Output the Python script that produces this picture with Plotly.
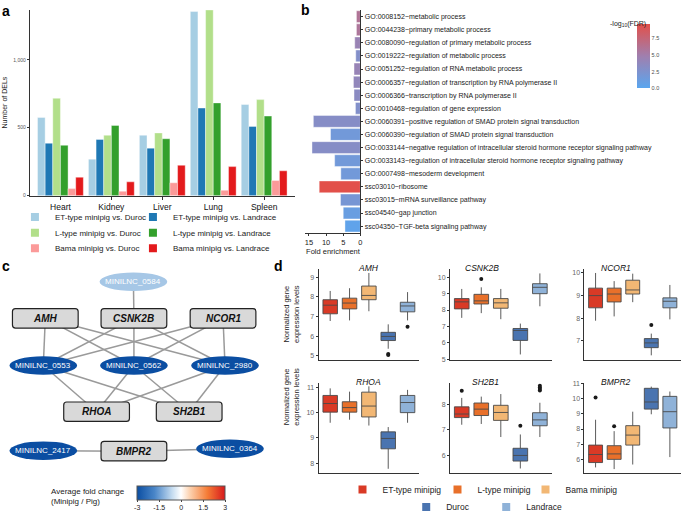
import plotly.graph_objects as go
from plotly.colors import sample_colorscale

W, H = 685, 522
FONT = "Liberation Sans, Arial, Helvetica, sans-serif"


def fx(p):
    return p / W


def fy(p):
    return 1 - p / H


# ---------------- panel a data ----------------
tissues = ["Heart", "Kidney", "Liver", "Lung", "Spleen"]
comparisons = ["ET-type minipig vs. Duroc", "ET-type minipig vs. Landrace",
               "L-type minipig vs. Duroc", "L-type minipig vs. Landrace",
               "Bama minipig vs. Duroc", "Bama minipig vs. Landrace"]
et_duroc = [576, 269, 445, 1355, 671]
et_landrace = [386, 414, 350, 645, 510]
l_duroc = [717, 445, 462, 1367, 707]
l_landrace = [371, 517, 419, 683, 586]
bama_duroc = [52, 33, 95, 40, 112]
bama_landrace = [136, 102, 224, 214, 183]
a_ticks = [0, 500, 1000]
a_ticktext = ["0", "500", "1,000"]

# ---------------- panel b data ----------------
terms = ["GO:0008152~metabolic process",
         "GO:0044238~primary metabolic process",
         "GO:0080090~regulation of primary metabolic process",
         "GO:0019222~regulation of metabolic process",
         "GO:0051252~regulation of RNA metabolic process",
         "GO:0006357~regulation of transcription by RNA polymerase II",
         "GO:0006366~transcription by RNA polymerase II",
         "GO:0010468~regulation of gene expression",
         "GO:0060391~positive regulation of SMAD protein signal transduction",
         "GO:0060390~regulation of SMAD protein signal transduction",
         "GO:0033144~negative regulation of intracellular steroid hormone receptor signaling pathway",
         "GO:0033143~regulation of intracellular steroid hormone receptor signaling pathway",
         "GO:0007498~mesoderm development",
         "ssc03010~ribosome",
         "ssc03015~mRNA surveillance pathway",
         "ssc04540~gap junction",
         "ssc04350~TGF-beta signaling pathway"]
fold_enrichment = [1.16, 1.16, 1.65, 1.36, 1.86, 2.03, 1.86, 1.45, 13.7, 8.7,
                   14.1, 7.5, 5.7, 12.0, 5.8, 5.0, 4.5]
neg_log10_fdr = [5.9, 5.7, 4.3, 2.8, 4.2, 3.8, 3.3, 2.7, 3.0, 1.6, 3.0, 1.6,
                 1.6, 9.5, 2.0, 1.0, 0.4]
b_fe_ticks = [0, 5, 10, 15]
b_cb_ticks = [0, 2.5, 5, 7.5]
b_cb_ticktext = ["0.0", "2.5", "5.0", "7.5"]

# ---------------- panel c data ----------------
genes = ["AMH", "CSNK2B", "NCOR1", "RHOA", "SH2B1", "BMPR2"]
lncrnas = ["MINILNC_0584", "MINILNC_0553", "MINILNC_0562", "MINILNC_2980",
           "MINILNC_2417", "MINILNC_0364"]
lnc_fold_change = [-0.9, -3, -3, -3, -3, -3]
edges = [("MINILNC_0584", "CSNK2B"),
         ("AMH", "MINILNC_0553"), ("AMH", "MINILNC_0562"), ("AMH", "MINILNC_2980"),
         ("CSNK2B", "MINILNC_0553"), ("CSNK2B", "MINILNC_0562"), ("CSNK2B", "MINILNC_2980"),
         ("NCOR1", "MINILNC_0553"), ("NCOR1", "MINILNC_0562"), ("NCOR1", "MINILNC_2980"),
         ("MINILNC_0553", "RHOA"), ("MINILNC_0553", "SH2B1"),
         ("MINILNC_0562", "RHOA"), ("MINILNC_0562", "SH2B1"),
         ("MINILNC_2980", "RHOA"), ("MINILNC_2980", "SH2B1"),
         ("MINILNC_2417", "BMPR2"), ("BMPR2", "MINILNC_0364")]
c_cb_ticks = [-3, -1.5, 0, 1.5, 3]
c_cb_ticktext = ["-3", "-1.5", "0", "1.5", "3"]

# ---------------- panel d data ----------------
groups = ["ET-type minipig", "L-type minipig", "Bama minipig", "Duroc", "Landrace"]
d_genes = ["AMH", "CSNK2B", "NCOR1", "RHOA", "SH2B1", "BMPR2"]
d_lower = {"AMH": [6.77, 6.80, 7.27, 5.35, 6.80], "CSNK2B": [7.52, 7.81, 7.44, 5.28, 8.23],
           "NCOR1": [7.89, 8.08, 8.71, 6.36, 7.95], "RHOA": [9.60, 9.72, 9.49, 7.78, 9.60],
           "SH2B1": [7.20, 7.23, 6.72, 5.49, 6.72], "BMPR2": [5.47, 5.36, 5.66, 8.97, 6.15]}
d_q1 = {"AMH": [7.14, 7.39, 7.86, 5.77, 7.24], "CSNK2B": [8.07, 8.37, 8.11, 6.14, 9.00],
        "NCOR1": [8.46, 8.72, 9.07, 6.70, 8.46], "RHOA": [10.02, 10.02, 9.83, 8.57, 10.00],
        "SH2B1": [7.48, 7.56, 7.37, 5.78, 7.16], "BMPR2": [5.79, 6.00, 6.94, 9.31, 8.07]}
d_median = {"AMH": [7.58, 7.69, 8.08, 5.98, 7.54], "CSNK2B": [8.50, 8.56, 8.44, 6.75, 9.39],
            "NCOR1": [9.00, 9.07, 9.25, 6.91, 8.75], "RHOA": [10.36, 10.20, 10.26, 8.98, 10.40],
            "SH2B1": [7.62, 7.81, 7.68, 6.00, 7.39], "BMPR2": [6.32, 6.36, 7.60, 9.78, 9.14]}
d_q3 = {"AMH": [7.86, 7.94, 8.56, 6.19, 7.73], "CSNK2B": [8.70, 8.96, 8.70, 6.87, 9.61],
        "NCOR1": [9.33, 9.33, 9.68, 7.10, 8.90], "RHOA": [10.68, 10.43, 10.81, 9.24, 10.68],
        "SH2B1": [7.90, 8.05, 7.96, 6.28, 7.67], "BMPR2": [6.94, 6.90, 8.22, 10.68, 10.15]}
d_upper = {"AMH": [8.31, 8.45, 9.23, 6.60, 8.25], "CSNK2B": [9.29, 9.39, 9.29, 7.17, 10.24],
           "NCOR1": [10.00, 9.64, 9.97, 7.32, 9.47], "RHOA": [10.96, 10.83, 11.04, 9.43, 10.90],
           "SH2B1": [8.25, 8.30, 8.40, 6.82, 8.06], "BMPR2": [8.61, 7.86, 9.14, 10.79, 10.47]}
d_outliers = {"AMH": {"Duroc": [5.08, 5.03], "Landrace": [6.47]},
              "CSNK2B": {"L-type minipig": [9.90]},
              "NCOR1": {"Duroc": [7.70]},
              "RHOA": {},
              "SH2B1": {"ET-type minipig": [8.53], "Duroc": [7.16],
                        "Landrace": [8.72, 8.66, 8.60, 8.54]},
              "BMPR2": {"ET-type minipig": [10.07], "L-type minipig": [8.18]}}
d_ticks = {"AMH": [5, 6, 7, 8, 9], "CSNK2B": [5, 6, 7, 8, 9, 10], "NCOR1": [7, 8, 9, 10],
           "RHOA": [8, 9, 10, 11], "SH2B1": [6, 7, 8], "BMPR2": [6, 7, 8, 9, 10, 11]}

# ---------------- styles / layout constants ----------------
a_colors = ["#A6CEE3", "#1F78B4", "#B2DF8A", "#33A02C", "#FB9A99", "#E31A1C"]
a_legend_widths = [73, 130, 73, 130, 73, 130]
b_scale = [[0, "#5AA6EF"], [0.5, "#A07FAE"], [1, "#E2504A"]]
c_scale = [[0, "#0B4EA2"], [0.2, "#4A86C8"], [0.4, "#C5DCF0"], [0.5, "#FFFFFF"],
           [0.6, "#FCD2B0"], [0.8, "#F57C36"], [1, "#D7191C"]]
d_colors = ["#D93A26", "#E8702A", "#F2B774", "#4A74B0", "#8FB2D8"]
d_legend_rows = ["legend4", "legend4", "legend4", "legend5", "legend5"]
d_legend_widths = [50, 43, 60, 35, 45]
NODE_POS = {"MINILNC_0584": (133, 286.5),
            "AMH": (44.5, 324), "CSNK2B": (133.5, 324), "NCOR1": (223, 324),
            "MINILNC_0553": (42.5, 372.5), "MINILNC_0562": (133.5, 372.5),
            "MINILNC_2980": (225, 372.5),
            "RHOA": (96, 420), "SH2B1": (189, 420),
            "MINILNC_2417": (42.5, 460), "BMPR2": (133.5, 460.5),
            "MINILNC_0364": (230, 458)}
C_WIDTH = 275
D_COLS = [(319, 420), (451, 553), (586, 683)]
D_ROWS = [(273, 366.7), (390, 483.3)]
D_RANGES = {"AMH": [4.78, 9.45], "CSNK2B": [4.95, 10.53], "NCOR1": [6.16, 10.19],
            "RHOA": [7.6, 11.19], "SH2B1": [5.3, 8.85], "BMPR2": [5.08, 11.06]}

fig = go.Figure()

# ---------------- panel a traces ----------------
a_series = [et_duroc, et_landrace, l_duroc, l_landrace, bama_duroc, bama_landrace]
for name, vals, col in zip(comparisons, a_series, a_colors):
    fig.add_trace(go.Bar(x=tissues, y=vals, name=name, xaxis="x", yaxis="y",
                         marker=dict(color=col, line=dict(color="white", width=0.4)),
                         showlegend=False, legendgroup=name))
a_leg = ["legend", "legend2", "legend3"]
for i, (name, col) in enumerate(zip(comparisons, a_colors)):
    fig.add_trace(go.Scatter(x=[None], y=[None], mode="markers", name=name,
                             marker=dict(symbol="square", size=8, color=col),
                             xaxis="x", yaxis="y", legend=a_leg[i // 2],
                             legendwidth=a_legend_widths[i],
                             legendgroup=name, showlegend=True))

# ---------------- panel b traces ----------------
fig.add_trace(go.Bar(
    y=terms, x=fold_enrichment, orientation="h", width=0.9, xaxis="x2", yaxis="y2",
    showlegend=False,
    marker=dict(color=neg_log10_fdr, colorscale=b_scale, cmin=0, cmax=9.5,
                line=dict(color="white", width=0.4), showscale=True,
                colorbar=dict(x=fx(639), xanchor="left", xpad=0, y=fy(22), yanchor="top",
                              ypad=0, len=64, lenmode="pixels", thickness=13,
                              thicknessmode="pixels", outlinewidth=0,
                              tickvals=b_cb_ticks, ticktext=b_cb_ticktext, ticks="",
                              tickfont=dict(size=5.5, color="#4d4d4d", family=FONT)))))

# ---------------- panel c traces ----------------
ex, ey = [], []
for s, t in edges:
    ex += [NODE_POS[s][0], NODE_POS[t][0], None]
    ey += [NODE_POS[s][1], NODE_POS[t][1], None]
fig.add_trace(go.Scatter(x=ex, y=ey, mode="lines", xaxis="x3", yaxis="y3",
                         line=dict(color="#9a9a9a", width=1.5), showlegend=False,
                         hoverinfo="skip"))
fig.add_trace(go.Scatter(
    x=[NODE_POS[n][0] for n in lncrnas], y=[NODE_POS[n][1] for n in lncrnas],
    mode="markers", xaxis="x3", yaxis="y3", showlegend=False,
    marker=dict(size=6, opacity=0, color=lnc_fold_change, colorscale=c_scale,
                cmin=-3, cmax=3, showscale=True,
                colorbar=dict(orientation="h", x=fx(181), xanchor="center", xpad=0,
                              y=fy(496), yanchor="top", ypad=0, len=88, lenmode="pixels",
                              thickness=14, thicknessmode="pixels", outlinewidth=1,
                              outlinecolor="#555555", tickvals=c_cb_ticks,
                              ticktext=c_cb_ticktext, ticks="outside", ticklen=2,
                              tickfont=dict(size=7, color="#222222", family=FONT)))))


def rrect(cx, cy, w, h, r=3):
    x0, x1, y0, y1 = cx - w / 2, cx + w / 2, cy - h / 2, cy + h / 2
    return (f"M{x0 + r},{y0} L{x1 - r},{y0} Q{x1},{y0} {x1},{y0 + r} L{x1},{y1 - r} "
            f"Q{x1},{y1} {x1 - r},{y1} L{x0 + r},{y1} Q{x0},{y1} {x0},{y1 - r} "
            f"L{x0},{y0 + r} Q{x0},{y0} {x0 + r},{y0} Z")


shapes = []
annotations = []
for n, fc in zip(lncrnas, lnc_fold_change):
    cx, cy = NODE_POS[n]
    col = sample_colorscale(c_scale, [(fc + 3) / 6])[0]
    shapes.append(dict(type="circle", xref="x3", yref="y3", x0=cx - 34, x1=cx + 34,
                       y0=cy - 9.5, y1=cy + 9.5, fillcolor=col, line=dict(width=0)))
    annotations.append(dict(x=cx, y=cy, xref="x3", yref="y3", text=n, showarrow=False,
                            font=dict(size=8, color="white", family=FONT)))
for g in genes:
    cx, cy = NODE_POS[g]
    shapes.append(dict(type="path", xref="x3", yref="y3", path=rrect(cx, cy, 66, 20),
                       fillcolor="#D9D9D9", line=dict(color="#222222", width=1.2)))
    annotations.append(dict(x=cx, y=cy, xref="x3", yref="y3", text=f"<b><i>{g}</i></b>",
                            showarrow=False, font=dict(size=10, color="#111111", family=FONT)))
annotations.append(dict(x=fx(48), y=fy(507), xref="paper", yref="paper", xanchor="left",
                        yanchor="middle", align="left", showarrow=False,
                        text="Average fold change<br>(Minipig / Pig)",
                        font=dict(size=8, color="#222222", family=FONT)))

# ---------------- panel d traces ----------------
for k, gname in enumerate(d_genes):
    xa, ya = f"x{4 + k}", f"y{4 + k}"
    for j, grp in enumerate(groups):
        fig.add_trace(go.Box(x=[grp], q1=[d_q1[gname][j]], median=[d_median[gname][j]],
                             q3=[d_q3[gname][j]], lowerfence=[d_lower[gname][j]],
                             upperfence=[d_upper[gname][j]], boxpoints=False,
                             width=0.75, whiskerwidth=0, xaxis=xa, yaxis=ya,
                             fillcolor=d_colors[j], line=dict(color="#4a4a4a", width=0.9),
                             name=grp, showlegend=False))
        outs = d_outliers[gname].get(grp, [])
        if outs:
            fig.add_trace(go.Scatter(x=[grp] * len(outs), y=outs, mode="markers",
                                     xaxis=xa, yaxis=ya, showlegend=False,
                                     marker=dict(color="#1a1a1a", size=4)))
for grp, col, lg, lw in zip(groups, d_colors, d_legend_rows, d_legend_widths):
    fig.add_trace(go.Scatter(x=[None], y=[None], mode="markers", name=grp,
                             marker=dict(symbol="square", size=8, color=col),
                             xaxis="x4", yaxis="y4", legend=lg, legendwidth=lw,
                             showlegend=True))

# ---------------- layout ----------------
axis_line = dict(showline=True, linecolor="#333333", linewidth=1, showgrid=False,
                 zeroline=False, ticks="outside", tickcolor="#333333")
layout = dict(
    width=W, height=H, margin=dict(l=0, r=0, t=0, b=0), autosize=False,
    paper_bgcolor="white", plot_bgcolor="rgba(0,0,0,0)",
    font=dict(family=FONT, color="#222222"),
    barmode="group", bargap=0.1, bargroupgap=0, boxmode="overlay",
    xaxis=dict(domain=[fx(29), fx(295)], range=[-0.6, 4.6], type="category",
               categoryarray=tissues, ticklen=3, tickfont=dict(size=8.5, color="#111111"),
               anchor="y", **axis_line),
    yaxis=dict(domain=[fy(198), fy(6.7)], range=[0, 1370], tickvals=a_ticks,
               ticktext=a_ticktext, ticklen=2, tickfont=dict(size=5, color="#555555"),
               title=dict(text="Number of DELs", font=dict(size=7, color="#222222"),
                          standoff=4),
               anchor="x", **axis_line),
    xaxis2=dict(domain=[fx(305.8), fx(361)], range=[16, 0], tickvals=b_fe_ticks,
                ticklen=2, tickfont=dict(size=7.5, color="#222222"),
                title=dict(text="Fold enrichment", font=dict(size=7.5, color="#222222"),
                           standoff=2),
                anchor="y2", **axis_line),
    yaxis2=dict(domain=[fy(236), fy(7.3)], type="category", categoryarray=terms,
                autorange="reversed", side="right", ticklen=2,
                tickfont=dict(size=7, color="#1a1a1a"), anchor="x2", **axis_line),
    xaxis3=dict(domain=[0, fx(C_WIDTH)], range=[0, C_WIDTH], visible=False, anchor="y3"),
    yaxis3=dict(domain=[fy(490), fy(270)], range=[490, 270], visible=False, anchor="x3"),
    shapes=shapes,
)
for k, gname in enumerate(d_genes):
    c0, c1 = D_COLS[k % 3]
    r0, r1 = D_ROWS[k // 3]
    layout[f"xaxis{4 + k}"] = dict(domain=[fx(c0), fx(c1)], range=[-0.6, 4.6],
                                   type="category", categoryarray=groups,
                                   showticklabels=False, showline=True,
                                   linecolor="#333333", linewidth=1, ticks="",
                                   showgrid=False, zeroline=False, anchor=f"y{4 + k}")
    layout[f"yaxis{4 + k}"] = dict(domain=[fy(r1), fy(r0)], range=D_RANGES[gname],
                                   tickvals=d_ticks[gname], ticklen=2,
                                   tickfont=dict(size=7, color="#666666"),
                                   anchor=f"x{4 + k}", **axis_line)
    annotations.append(dict(x=fx((c0 + c1) / 2), y=fy(r0 - 1), xref="paper", yref="paper",
                            text=f"<i>{gname}</i>", showarrow=False, yanchor="middle",
                            font=dict(size=8.5, color="#111111", family=FONT)))
for r0, r1 in D_ROWS:
    annotations.append(dict(x=fx(292), y=fy((r0 + r1) / 2), xref="paper", yref="paper",
                            text="Normalized gene<br>expression levels", textangle=-90,
                            showarrow=False, font=dict(size=7.5, color="#222222", family=FONT)))
annotations.append(dict(x=fx(650), y=fy(15), xref="paper", yref="paper",
                        text="-log<sub>10</sub>(FDR)", showarrow=False,
                        font=dict(size=7, color="#222222", family=FONT)))
for lab, px, py in [("a", 5, 8), ("b", 306, 7), ("c", 5, 270), ("d", 279, 270)]:
    annotations.append(dict(x=fx(px), y=fy(py), xref="paper", yref="paper", text=f"<b>{lab}</b>",
                            showarrow=False, xanchor="center", yanchor="middle",
                            font=dict(size=14, color="#000000", family=FONT)))
layout["annotations"] = annotations

leg_common = dict(orientation="h", xanchor="left", yanchor="middle", bgcolor="rgba(0,0,0,0)",
                  borderwidth=0, font=dict(size=8, color="#222222", family=FONT),
                  itemclick=False, itemdoubleclick=False, entrywidthmode="pixels")
for lg, py in zip(a_leg, [220, 236, 252]):
    layout[lg] = dict(x=fx(14), y=fy(py), **leg_common)
layout["legend4"] = dict(x=fx(343), y=fy(500),
                         **{**leg_common, "font": dict(size=8.5, color="#222222", family=FONT)})
layout["legend5"] = dict(x=fx(407), y=fy(518),
                         **{**leg_common, "font": dict(size=8.5, color="#222222", family=FONT)})

fig.update_layout(**layout)
fig.write_html("out.html", config={"displayModeBar": False},
               post_script="document.body.style.margin='0px';")
